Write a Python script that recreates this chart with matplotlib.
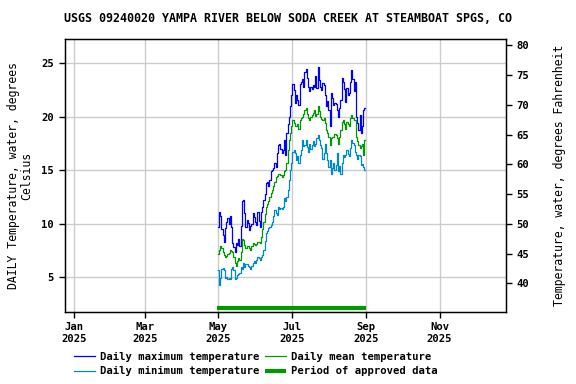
import numpy as np
import pandas as pd
import matplotlib
matplotlib.use('Agg')
import matplotlib.pyplot as plt
import matplotlib.dates as mdates

# temperaturas diarias (grados C) desde el 1 de mayo de 2025
tmax = [9.7, 11.1, 10.7, 9.5, 9.0, 8.3, 9.6, 10.2, 10.5, 10.0, 10.7, 9.7, 8.2, 7.8, 7.4, 8.2, 8.0, 8.6, 7.9, 9.8,
        12.1, 12.2, 11.0, 9.7, 10.4, 10.1, 9.4, 9.8, 10.0, 11.0, 10.6, 10.2, 9.9, 11.1, 10.3, 9.7, 11.1, 11.6, 12.2, 12.8,
        13.8, 13.9, 13.5, 14.1, 14.9, 15.0, 15.2, 15.7, 15.3, 16.6, 17.4, 17.5, 17.0, 16.6, 16.9, 17.8, 16.4, 18.5, 19.3, 20.0,
        21.0, 22.0, 23.1, 22.5, 21.3, 22.0, 21.6, 21.1, 23.1, 23.3, 23.5, 22.8, 24.2, 24.5, 23.6, 22.8, 22.4, 22.8, 22.6, 23.0,
        22.8, 23.8, 22.7, 24.7, 23.4, 22.8, 22.5, 23.2, 23.0, 22.0, 21.0, 21.5, 20.6, 19.1, 22.2, 21.8, 21.1, 21.3, 21.2, 20.6,
        20.0, 20.8, 21.6, 23.6, 23.3, 22.6, 21.4, 22.7, 22.0, 22.2, 23.3, 24.4, 23.5, 22.4, 23.3, 20.0, 19.4, 18.8, 20.2, 18.5,
        19.1, 20.6, 20.8]
tmean = [7.2, 7.6, 7.9, 7.7, 7.4, 7.1, 6.9, 7.0, 7.2, 7.3, 7.6, 7.5, 7.4, 6.9, 6.3, 6.1, 6.5, 6.8, 6.6, 7.4,
         8.6, 8.5, 8.0, 7.7, 7.9, 7.9, 7.7, 7.6, 7.9, 8.2, 8.1, 8.0, 8.1, 8.3, 8.3, 8.2, 8.8, 9.5, 10.2, 10.9,
         11.6, 11.9, 12.1, 12.5, 12.9, 13.2, 13.5, 13.9, 14.4, 14.5, 14.7, 14.7, 14.6, 14.4, 14.6, 14.9, 15.0, 15.7, 16.9, 17.8,
         18.5, 19.1, 19.7, 19.4, 19.1, 19.1, 19.3, 18.9, 19.7, 19.9, 20.0, 20.3, 20.6, 20.8, 20.3, 19.9, 19.7, 20.0, 20.2, 20.4,
         20.6, 20.1, 20.3, 21.0, 20.5, 20.0, 19.8, 19.7, 19.9, 19.4, 18.8, 18.5, 18.1, 17.4, 18.0, 18.1, 18.1, 18.4, 18.3, 18.0,
         17.5, 18.1, 18.8, 19.5, 19.7, 19.3, 18.9, 19.5, 19.3, 19.1, 19.9, 20.2, 19.9, 19.7, 19.7, 18.1, 17.7, 17.4, 17.1, 17.3,
         17.5, 16.4, 17.8]
tmin = [5.7, 4.3, 4.9, 5.8, 5.9, 5.7, 4.9, 5.0, 4.8, 4.9, 4.8, 5.8, 6.0, 5.7, 4.8, 4.9, 5.2, 5.3, 5.4, 6.0,
        5.8, 6.3, 6.0, 6.2, 6.2, 6.1, 6.0, 5.8, 6.1, 6.3, 6.5, 6.3, 6.6, 6.9, 6.8, 6.6, 6.9, 7.1, 7.6, 8.4,
        9.1, 9.3, 9.6, 9.7, 9.9, 10.2, 10.7, 11.3, 11.0, 10.8, 11.6, 11.4, 11.5, 11.4, 11.6, 12.4, 12.1, 12.5, 13.2, 14.1,
        15.0, 15.7, 16.7, 16.9, 16.6, 16.0, 16.3, 15.7, 16.4, 16.9, 17.8, 17.3, 17.4, 17.8, 17.2, 16.7, 17.5, 17.0, 17.4, 17.7,
        17.3, 17.5, 18.0, 18.3, 17.8, 17.4, 17.1, 16.1, 16.6, 17.5, 16.6, 16.0, 15.3, 16.0, 14.7, 15.2, 15.7, 15.0, 15.5, 16.6,
        14.9, 15.4, 14.7, 15.7, 16.4, 16.2, 16.4, 16.9, 16.5, 16.3, 17.1, 17.8, 17.6, 17.4, 16.7, 16.4, 16.1, 16.4, 16.3, 15.5,
        15.6, 15.3, 15.0]
inicio = '2025-05-01'
periodo_aprobado = ['2025-04-30', '2025-09-01']
ticks_f = [40, 45, 50, 55, 60, 65, 70, 75, 80]
ticks_c = [5, 10, 15, 20, 25]

plt.rcParams['font.family'] = 'DejaVu Sans Mono'
plt.rcParams['font.weight'] = 'bold'
plt.rcParams['font.size'] = 7.6

fig = plt.figure(figsize=(5.76, 3.84), dpi=100)
ax = fig.add_axes([0.112, 0.1875, 0.766, 0.71])

f_max = pd.date_range(inicio, periods=len(tmax))
f_mean = pd.date_range(inicio, periods=len(tmean))
f_min = pd.date_range(inicio, periods=len(tmin))

ax.plot(f_max, tmax, color='#0000ff', lw=0.9, drawstyle='steps-mid', label='Daily maximum temperature')
ax.plot(f_min, tmin, color='#0088cc', lw=0.9, drawstyle='steps-mid', label='Daily minimum temperature')
ax.plot(f_mean, tmean, color='#009900', lw=0.9, drawstyle='steps-mid', label='Daily mean temperature')
ax.plot(pd.to_datetime(periodo_aprobado), [2.1, 2.1], color='#009900', lw=3, solid_capstyle='butt',
        label='Period of approved data')

ax.set_xlim(pd.Timestamp('2024-12-24'), pd.Timestamp('2025-12-26'))
ylo, yhi = 1.76, 27.24
ax.set_ylim(ylo, yhi)
ax.set_yticks(ticks_c)
ax.xaxis.set_major_locator(mdates.MonthLocator(bymonth=[1, 3, 5, 7, 9, 11]))
ax.xaxis.set_major_formatter(mdates.DateFormatter('%b\n%Y'))
ax.grid(True, color='#cccccc', lw=1)
ax.set_axisbelow(True)
for s in ax.spines.values():
    s.set_linewidth(1)
ax.tick_params(direction='out', length=4, width=1)
ax.set_ylabel('DAILY Temperature, water, degrees\nCelsius', labelpad=6, linespacing=1.0, fontsize=8.3)

ax2 = ax.twinx()
ax2.set_ylim(ylo * 9 / 5 + 32, yhi * 9 / 5 + 32)
ax2.set_yticks(ticks_f)
ax2.tick_params(direction='out', length=4, width=1)
ax2.set_ylabel('Temperature, water, degrees Fahrenheit', labelpad=17, fontsize=8.3)

fig.text(0.5, 0.953, 'USGS 09240020 YAMPA RIVER BELOW SODA CREEK AT STEAMBOAT SPGS, CO',
         ha='center', va='center', fontsize=8.4, fontweight='bold')

h, l = ax.get_legend_handles_labels()
fig.legend(h, l, loc='center', bbox_to_anchor=(0.444, 0.052),
           ncol=2, frameon=False, handlelength=2.0, handletextpad=0.4, columnspacing=0.6,
           labelspacing=0.45, borderaxespad=0)

fig.savefig('out.png', dpi=100)
